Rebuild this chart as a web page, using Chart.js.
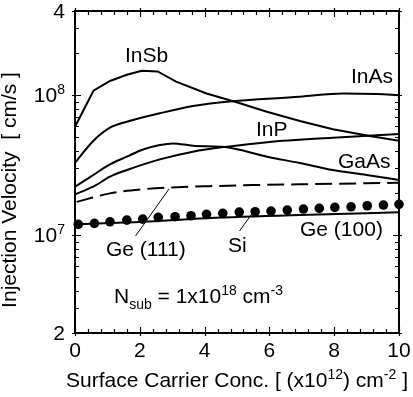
<!DOCTYPE html>
<html>
<head>
<meta charset="utf-8">
<script src="https://cdn.jsdelivr.net/npm/chart.js@4.4.0/dist/chart.umd.min.js"></script>
<style>
  html, body { margin: 0; padding: 0; background: #fff; }
  #wrap { width: 413px; height: 397px; }
</style>
</head>
<body>
<div id="wrap"><canvas id="chart" width="413" height="397"></canvas></div>
<script>
// values: x = surface carrier conc. (1e12 cm^-2), y = injection velocity (cm/s)
const inSbX = [0, 0.57, 1.08, 1.6, 2.06, 2.55, 3.12, 4.06, 5.04, 5.92, 6.94, 7.96, 9.1, 10];
const inSbY = [5.96e7, 1.077e8, 1.264e8, 1.40e8, 1.497e8, 1.48e8, 1.25e8, 1.03e8, 8.85e7, 7.62e7, 6.54e7, 5.71e7, 5.11e7, 4.73e7];

const inAsX = [0, 0.57, 1.08, 1.6, 2.62, 3.64, 4.68, 6.94, 8.27, 9.32, 10];
const inAsY = [3.29e7, 4.73e7, 5.86e7, 6.47e7, 7.43e7, 8.37e7, 8.99e7, 9.76e7, 1.03e8, 1.02e8, 1.0e8];

const gaAsX = [0, 0.56, 1.08, 1.6, 2.1, 2.62, 3.02, 3.64, 4.63, 5.93, 6.94, 7.96, 9.0, 10];
const gaAsY = [2.22e7, 2.69e7, 3.21e7, 3.64e7, 4.10e7, 4.41e7, 4.53e7, 4.36e7, 4.26e7, 3.64e7, 3.28e7, 2.92e7, 2.69e7, 2.48e7];

const inPX = [0, 0.56, 1.08, 1.6, 2.62, 3.64, 4.69, 5.93, 7.96, 10];
const inPY = [1.96e7, 2.22e7, 2.62e7, 2.92e7, 3.48e7, 3.95e7, 4.29e7, 4.62e7, 4.97e7, 5.28e7];

const ge111X = [0.05, 1.08, 2.1, 3.15, 4.17, 5.49, 6.94, 10];
const ge111Y = [1.73e7, 1.99e7, 2.13e7, 2.20e7, 2.24e7, 2.28e7, 2.31e7, 2.37e7];

const ge100X = [0, 2.1, 3.86, 6.94, 10];
const ge100Y = [1.195e7, 1.247e7, 1.318e7, 1.393e7, 1.456e7];

const siX = [0.10, 0.60, 1.08, 1.60, 2.09, 2.57, 3.09, 3.58, 4.06, 4.56, 5.07, 5.56, 6.05, 6.55, 7.05, 7.54, 8.02, 8.52, 9.02, 9.52, 10.0];
const siY = [1.195e7, 1.215e7, 1.247e7, 1.282e7, 1.303e7, 1.341e7, 1.355e7, 1.377e7, 1.409e7, 1.432e7, 1.463e7,
             1.471e7, 1.487e7, 1.511e7, 1.537e7, 1.555e7, 1.580e7, 1.596e7, 1.623e7, 1.642e7, 1.661e7];

// axis ticks
const xMajor = [0, 2, 4, 6, 8, 10];
const xTickLabels = ['0', '2', '4', '6', '8', '10'];
const yLabelled = [2e6, 1e7, 1e8, 4e8];
const yTickLabels = [[['2', '']], [['10', ''], ['7', 'sup']], [['10', ''], ['8', 'sup']], [['4', '']]];
const yMinor = [3e6, 4e6, 5e6, 6e6, 7e6, 8e6, 9e6, 2e7, 3e7, 4e7, 5e7, 6e7, 7e7, 8e7, 9e7, 2e8, 3e8];

const FONT = '"Liberation Sans", Arial, sans-serif';
const MAIN = 21, SMALL = 14;

function pts(xs, ys) {
  return xs.map((x, i) => ({ x: x, y: ys[i] }));
}

// draw text made of pieces: [text, '' | 'sup' | 'sub']
function rich(ctx, parts, x, y, align) {
  let w = 0;
  parts.forEach(p => {
    ctx.font = (p[1] ? SMALL : MAIN) + 'px ' + FONT;
    w += ctx.measureText(p[0]).width;
  });
  let cx = align === 'right' ? x - w : align === 'center' ? x - w / 2 : x;
  ctx.textAlign = 'left';
  ctx.textBaseline = 'alphabetic';
  parts.forEach(p => {
    ctx.font = (p[1] ? SMALL : MAIN) + 'px ' + FONT;
    const dy = p[1] === 'sup' ? -8 : p[1] === 'sub' ? 6 : 0;
    ctx.fillText(p[0], cx, y + dy);
    cx += ctx.measureText(p[0]).width;
  });
}

const framePlugin = {
  id: 'frame',
  afterDatasetsDraw(chart) {
    const ctx = chart.ctx;
    const a = chart.chartArea;
    const xs = chart.scales.x, ys = chart.scales.y;
    ctx.save();
    ctx.strokeStyle = '#000';
    ctx.fillStyle = '#000';

    // ticks
    ctx.lineWidth = 1.2;
    ctx.beginPath();
    for (let v = 0; v <= 10.001; v += 0.4) {
      const px = Math.round(xs.getPixelForValue(v)) + 0.5;
      const major = Math.abs(v / 2 - Math.round(v / 2)) < 0.01;
      const len = major ? 6 : 4;
      ctx.moveTo(px, a.bottom + (major ? 3 : 0)); ctx.lineTo(px, a.bottom - len);
      ctx.moveTo(px, a.top - (major ? 3 : 0)); ctx.lineTo(px, a.top + len);
    }
    yLabelled.concat(yMinor).forEach(v => {
      const py = Math.round(ys.getPixelForValue(v)) + 0.5;
      const major = yLabelled.includes(v);
      const len = major ? 6 : 4;
      ctx.moveTo(a.left - (major ? 3 : 0), py); ctx.lineTo(a.left + len, py);
      ctx.moveTo(a.right + (major ? 3 : 0), py); ctx.lineTo(a.right - len, py);
    });
    ctx.stroke();

    // frame
    ctx.lineWidth = 2;
    ctx.strokeRect(a.left, a.top, a.right - a.left, a.bottom - a.top);

    // tick labels
    xMajor.forEach((v, i) => {
      rich(ctx, [[xTickLabels[i], '']], xs.getPixelForValue(v), a.bottom + 24, 'center');
    });
    yLabelled.forEach((v, i) => {
      rich(ctx, yTickLabels[i], a.left - 10, ys.getPixelForValue(v) + 7, 'right');
    });

    // axis titles
    rich(ctx, [['Surface Carrier Conc. [ (x10', ''], ['12', 'sup'], [') cm', ''], ['-2', 'sup'], [' ]', '']],
      237, 387, 'center');
    ctx.save();
    ctx.translate(16, 190);
    ctx.rotate(-Math.PI / 2);
    rich(ctx, [['Injection Velocity  [ cm/s ]', '']], 0, 0, 'center');
    ctx.restore();

    // curve labels
    rich(ctx, [['InSb', '']], 125, 62, 'left');
    rich(ctx, [['InAs', '']], 351, 83, 'left');
    rich(ctx, [['InP', '']], 256, 136, 'left');
    rich(ctx, [['GaAs', '']], 338, 168, 'left');
    rich(ctx, [['Ge (111)', '']], 106, 256, 'left');
    rich(ctx, [['Si', '']], 228, 252, 'left');
    rich(ctx, [['Ge (100)', '']], 300, 236, 'left');
    rich(ctx, [['N', ''], ['sub', 'sub'], [' = 1x10', ''], ['18', 'sup'], [' cm', ''], ['-3', 'sup']], 114, 303, 'left');

    // leader lines
    ctx.lineWidth = 1;
    ctx.beginPath();
    ctx.moveTo(169, 189); ctx.lineTo(135.5, 236);
    ctx.moveTo(252.5, 213); ctx.lineTo(239.5, 231);
    ctx.stroke();
    ctx.restore();
  }
};

const lineStyle = {
  showLine: true, borderColor: '#000', borderWidth: 2, pointRadius: 0,
  cubicInterpolationMode: 'monotone', clip: false
};

new Chart(document.getElementById('chart'), {
  type: 'scatter',
  data: {
    datasets: [
      Object.assign({ label: 'InSb', data: pts(inSbX, inSbY) }, lineStyle, { cubicInterpolationMode: 'default', tension: 0 }),
      Object.assign({ label: 'InAs', data: pts(inAsX, inAsY) }, lineStyle),
      Object.assign({ label: 'GaAs', data: pts(gaAsX, gaAsY) }, lineStyle),
      Object.assign({ label: 'InP', data: pts(inPX, inPY) }, lineStyle),
      Object.assign({ label: 'Ge (111)', data: pts(ge111X, ge111Y), borderDash: [17, 7] }, lineStyle),
      Object.assign({ label: 'Ge (100)', data: pts(ge100X, ge100Y) }, lineStyle),
      {
        label: 'Si', data: pts(siX, siY), showLine: false, clip: false,
        pointRadius: 4.8, pointBackgroundColor: '#000', pointBorderColor: '#000', pointBorderWidth: 0
      }
    ]
  },
  options: {
    responsive: false,
    animation: false,
    layout: { padding: { left: 75, top: 11, right: 14, bottom: 64 } },
    plugins: { legend: { display: false }, tooltip: { enabled: false } },
    scales: {
      x: { type: 'linear', min: 0, max: 10, display: false },
      y: { type: 'logarithmic', min: 2e6, max: 4e8, display: false }
    }
  },
  plugins: [framePlugin]
});
</script>
</body>
</html>
